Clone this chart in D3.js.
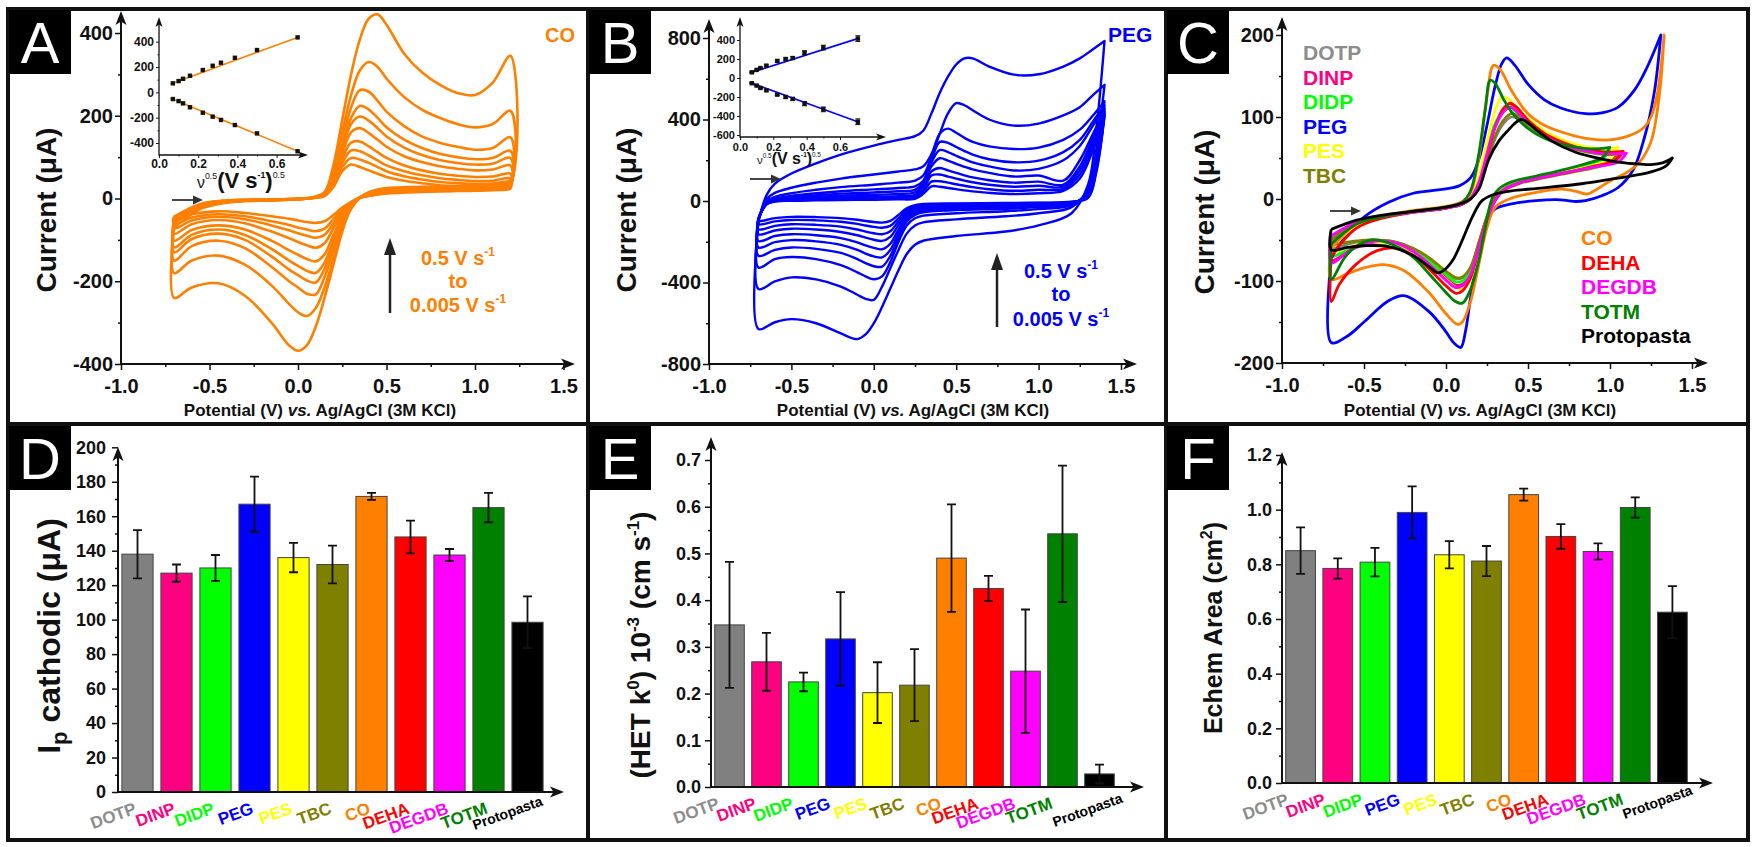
<!DOCTYPE html>
<html>
<head>
<meta charset="utf-8">
<script src="https://cdn.jsdelivr.net/npm/d3@7"></script>
<style>
  body { margin: 0; background: #fff; }
  svg text { font-family: "Liberation Sans", Arial, sans-serif; }
</style>
</head>
<body>
<svg id="fig" width="1753" height="847"></svg>
<script>
// ---------------- bar panels (D, E, F) ----------------
const materials = ["DOTP", "DINP", "DIDP", "PEG", "PES", "TBC", "CO", "DEHA", "DEGDB", "TOTM", "Protopasta"];
const matColors = ["#808080", "#ff0080", "#00ff00", "#0000ff", "#ffff00", "#808000", "#ff8000", "#ff0000", "#ff00ff", "#008000", "#000000"];
const labelColors = ["#8c8c8c", "#ff0080", "#00ff00", "#0000ff", "#ffff00", "#808000", "#ff8000", "#ff0000", "#ff00ff", "#008000", "#000000"];

const ipCathodic = [138, 127, 130, 167, 136, 132, 171.5, 148, 137.5, 165, 98.5];
const ipErr      = [14, 5, 7.5, 16, 8.5, 11, 2, 9.5, 3.5, 8.5, 15];
const hetK0      = [0.347, 0.268, 0.225, 0.317, 0.202, 0.218, 0.49, 0.425, 0.248, 0.542, 0.028];
const hetErr     = [0.135, 0.062, 0.02, 0.1, 0.065, 0.077, 0.115, 0.027, 0.132, 0.146, 0.02];
const echemArea  = [0.85, 0.785, 0.808, 0.99, 0.835, 0.812, 1.055, 0.902, 0.847, 1.008, 0.625];
const areaErr    = [0.085, 0.037, 0.052, 0.095, 0.05, 0.055, 0.022, 0.045, 0.03, 0.037, 0.095];

// ---------------- panel A: CO, scan rates 0.5 -> 0.005 V/s ----------------
const scanRates = [0.5, 0.25, 0.15, 0.1, 0.075, 0.05, 0.025, 0.015, 0.01, 0.005];
const cvAFwdE = [-0.7, -0.55, -0.4, -0.2, 0.0, 0.1, 0.15, 0.2, 0.25, 0.3, 0.35, 0.4, 0.45, 0.5, 0.6, 0.7, 0.8, 0.9, 1.0, 1.1, 1.2];
const cvAFwdI = [
  [-70, -25, -10, -5, -2, 5, 15, 80, 190, 300, 385, 435, 445, 420, 350, 305, 275, 255, 250, 280, 345],
  [-60, -22, -8, -4, -2, 4, 15, 65, 160, 250, 310, 330, 318, 290, 245, 215, 195, 180, 172, 180, 212],
  [-55, -20, -8, -4, -2, 3, 12, 55, 140, 220, 262, 258, 236, 210, 175, 150, 135, 125, 118, 122, 148],
  [-55, -20, -7, -4, -2, 3, 12, 50, 125, 195, 224, 215, 195, 172, 142, 122, 108, 100, 95, 98, 115],
  [-52, -18, -7, -4, -2, 3, 11, 48, 118, 180, 198, 188, 170, 150, 123, 105, 93, 86, 82, 84, 98],
  [-50, -17, -6, -3, -1, 3, 10, 44, 108, 160, 170, 158, 142, 125, 102, 88, 78, 72, 68, 70, 80],
  [-48, -16, -6, -3, -1, 3, 9, 40, 96, 135, 138, 126, 112, 98, 80, 68, 60, 55, 52, 53, 60],
  [-46, -15, -5, -3, -1, 2, 8, 36, 86, 116, 114, 104, 92, 80, 66, 56, 49, 45, 42, 43, 48],
  [-45, -14, -5, -3, -1, 2, 7, 32, 76, 98, 94, 86, 76, 66, 54, 46, 40, 37, 35, 36, 40],
  [-44, -13, -5, -3, -1, 2, 6, 28, 66, 82, 76, 68, 60, 52, 43, 37, 32, 30, 28, 29, 32]
];
const cvARevE = [1.2, 1.1, 0.9, 0.7, 0.5, 0.4, 0.35, 0.3, 0.25, 0.2, 0.15, 0.1, 0.05, 0.0, -0.05, -0.15, -0.3, -0.45, -0.6, -0.7];
const cvARevI = [
  [45, 35, 30, 28, 25, 15, 2, -20, -80, -160, -240, -310, -355, -368, -355, -300, -235, -205, -215, -240],
  [40, 32, 28, 26, 22, 14, 2, -25, -75, -145, -215, -265, -284, -275, -255, -210, -160, -138, -150, -180],
  [38, 30, 26, 24, 20, 13, 3, -20, -65, -125, -190, -232, -230, -215, -200, -165, -120, -102, -115, -150],
  [36, 28, 24, 22, 18, 12, 3, -18, -58, -112, -170, -203, -198, -185, -172, -140, -100, -85, -98, -130],
  [34, 27, 23, 21, 17, 11, 3, -16, -52, -100, -155, -180, -175, -163, -150, -122, -88, -75, -88, -118],
  [32, 25, 22, 20, 16, 10, 3, -14, -46, -88, -135, -152, -146, -136, -125, -102, -75, -65, -76, -102],
  [30, 24, 21, 19, 15, 9, 2, -12, -38, -72, -108, -119, -113, -105, -96, -80, -60, -52, -62, -85],
  [28, 23, 20, 18, 14, 8, 2, -10, -32, -60, -88, -95, -90, -84, -77, -65, -50, -44, -53, -72],
  [26, 22, 19, 17, 13, 7, 2, -9, -27, -50, -73, -79, -75, -70, -64, -55, -43, -38, -46, -62],
  [24, 20, 18, 16, 12, 6, 1, -8, -22, -40, -55, -59, -57, -53, -49, -43, -35, -31, -38, -52]
];

// inset: peak current vs sqrt(scan rate)
const sqrtScan = [0.0707, 0.1, 0.1225, 0.1581, 0.2236, 0.2739, 0.3162, 0.3873, 0.5, 0.7071];
const insetAUp   = [71, 89, 107, 131, 176, 210, 234, 273, 334, 434];
const insetADown = [-53, -69, -87, -118, -161, -192, -218, -258, -324, -465];
const insetAFitUp   = [[0.06, 65], [0.71, 436]];
const insetAFitDown = [[0.06, -46], [0.71, -467]];

// ---------------- panel B: PEG ----------------
const cvBFwdE = [-0.7, -0.65, -0.6, -0.5, -0.35, -0.2, 0.0, 0.15, 0.25, 0.3, 0.35, 0.4, 0.45, 0.5, 0.55, 0.6, 0.7, 0.85, 1.0, 1.15, 1.25, 1.33, 1.4];
const cvBFwdI = [
  [-100, 30, 85, 135, 185, 228, 272, 300, 318, 345, 430, 530, 610, 670, 700, 700, 660, 620, 622, 660, 700, 745, 785],
  [-95, 10, 40, 65, 90, 110, 130, 145, 155, 170, 230, 330, 430, 480, 470, 445, 400, 370, 380, 420, 460, 520, 570],
  [-92, 0, 20, 38, 55, 68, 80, 90, 100, 125, 220, 330, 355, 335, 310, 290, 268, 255, 262, 300, 350, 420, 490],
  [-90, -5, 12, 25, 38, 48, 57, 64, 72, 100, 200, 290, 285, 265, 245, 228, 205, 190, 198, 240, 300, 390, 470],
  [-88, -8, 8, 18, 28, 36, 42, 48, 55, 90, 190, 250, 240, 222, 205, 190, 170, 150, 158, 200, 270, 370, 455],
  [-88, -10, 5, 12, 20, 26, 30, 35, 42, 80, 170, 210, 198, 182, 168, 155, 138, 120, 125, 100, 200, 330, 445],
  [-87, -12, 2, 8, 13, 17, 20, 24, 30, 65, 145, 162, 150, 138, 126, 116, 102, 90, 95, 80, 170, 310, 435],
  [-86, -14, 0, 5, 9, 12, 14, 17, 22, 55, 125, 130, 120, 110, 100, 92, 80, 70, 75, 70, 150, 290, 428],
  [-85, -15, -2, 3, 6, 8, 10, 12, 16, 45, 95, 97, 90, 82, 75, 68, 58, 50, 55, 60, 130, 270, 422],
  [-85, -16, -3, 1, 3, 5, 6, 8, 11, 35, 72, 70, 64, 58, 52, 47, 40, 34, 38, 50, 110, 250, 418]
];
const cvBRevE = [1.4, 1.35, 1.3, 1.2, 1.0, 0.8, 0.5, 0.3, 0.25, 0.2, 0.15, 0.1, 0.05, 0.0, -0.05, -0.1, -0.2, -0.35, -0.5, -0.6, -0.7];
const cvBRevI = [
  [785, 350, 80, -60, -120, -150, -172, -195, -215, -260, -340, -430, -520, -600, -655, -678, -650, -600, -580, -595, -628],
  [570, 250, 60, -30, -60, -75, -90, -105, -120, -160, -240, -330, -420, -485, -480, -460, -420, -385, -375, -395, -432],
  [490, 220, 50, -20, -40, -50, -60, -72, -85, -120, -200, -300, -370, -384, -370, -350, -315, -285, -275, -285, -327],
  [470, 200, 40, -15, -30, -38, -45, -55, -68, -100, -180, -270, -322, -320, -305, -285, -255, -235, -228, -240, -269],
  [455, 190, 35, -12, -25, -32, -38, -46, -58, -88, -160, -240, -277, -272, -258, -240, -215, -198, -192, -202, -228],
  [445, 180, 30, -10, -20, -26, -30, -38, -50, -78, -140, -210, -237, -230, -218, -203, -182, -168, -163, -172, -196],
  [435, 170, 25, -8, -15, -20, -24, -30, -40, -65, -118, -176, -196, -190, -180, -168, -152, -140, -136, -145, -163],
  [428, 160, 22, -6, -12, -16, -19, -24, -33, -55, -100, -148, -163, -158, -150, -140, -126, -117, -114, -122, -139],
  [422, 150, 18, -5, -10, -13, -15, -19, -27, -45, -84, -122, -131, -127, -120, -112, -102, -95, -93, -100, -114],
  [418, 140, 15, -4, -8, -10, -12, -15, -21, -36, -68, -98, -106, -103, -98, -92, -84, -79, -78, -84, -98]
];
const insetBUp   = [60, 85, 105, 130, 180, 200, 210, 265, 320, 415];
const insetBDown = [-55, -80, -105, -130, -175, -200, -220, -270, -330, -460];
const insetBErr  = [5, 5, 6, 8, 10, 12, 15, 22, 25, 30];
const insetBFitUp   = [[0.06, 54], [0.71, 417]];
const insetBFitDown = [[0.06, -48], [0.71, -462]];

// ---------------- panel C: all filaments, [E (V), I (uA)] ----------------
const cvCFwd = [
  [[-0.7,-50],[-0.55,-30],[-0.4,-22],[-0.2,-16],[0,-11],[0.1,-6],[0.15,0],[0.2,16],[0.25,44],[0.3,74],[0.35,92],[0.4,100],[0.44,98],[0.5,88],[0.6,76],[0.7,67],[0.8,61],[0.9,57],[1.0,55],[1.05,56]],
  [[-0.7,-45],[-0.55,-29],[-0.4,-22],[-0.2,-16],[0,-11],[0.1,-6],[0.15,1],[0.2,20],[0.25,56],[0.3,90],[0.35,110],[0.39,116],[0.43,111],[0.5,95],[0.6,79],[0.7,69],[0.8,62],[0.9,58],[1.0,56],[1.08,57]],
  [[-0.7,-55],[-0.55,-31],[-0.4,-22],[-0.2,-16],[0,-11],[0.1,-6],[0.15,1],[0.2,22],[0.25,60],[0.3,92],[0.35,107],[0.39,112],[0.43,106],[0.5,91],[0.6,77],[0.7,67],[0.8,61],[0.9,58],[1.0,60]],
  [[-0.7,-72],[-0.6,-42],[-0.5,-22],[-0.35,-4],[-0.2,7],[-0.05,11],[0.08,16],[0.15,26],[0.2,48],[0.25,90],[0.3,138],[0.34,165],[0.37,172],[0.42,163],[0.5,140],[0.6,121],[0.7,111],[0.85,104],[0.95,105],[1.05,112],[1.15,133],[1.22,158],[1.31,200]],
  [[-0.7,-60],[-0.55,-33],[-0.4,-23],[-0.2,-16],[0,-11],[0.1,-6],[0.15,2],[0.2,26],[0.25,70],[0.3,108],[0.34,124],[0.38,122],[0.43,112],[0.5,98],[0.6,83],[0.7,73],[0.8,66],[0.9,62],[1.0,61],[1.05,63]],
  [[-0.7,-50],[-0.55,-30],[-0.4,-22],[-0.2,-16],[0,-11],[0.1,-6],[0.15,0],[0.2,16],[0.25,46],[0.3,77],[0.35,96],[0.4,104],[0.44,101],[0.5,91],[0.6,77],[0.7,67],[0.8,60],[0.9,56],[1.0,54],[1.05,56]],
  [[-0.7,-60],[-0.55,-31],[-0.4,-22],[-0.2,-14],[0,-9],[0.1,-3],[0.15,8],[0.2,50],[0.25,125],[0.29,163],[0.33,158],[0.4,132],[0.5,104],[0.6,90],[0.7,82],[0.85,74],[1.0,72],[1.1,76],[1.2,86],[1.25,100],[1.29,130],[1.33,200]],
  [[-0.7,-70],[-0.55,-36],[-0.4,-24],[-0.2,-16],[0,-11],[0.1,-6],[0.15,1],[0.2,18],[0.25,52],[0.3,88],[0.35,110],[0.39,117],[0.43,112],[0.5,96],[0.6,80],[0.7,70],[0.8,63],[0.9,59],[1.0,57],[1.08,58]],
  [[-0.7,-45],[-0.55,-29],[-0.4,-22],[-0.2,-16],[0,-11],[0.1,-6],[0.15,1],[0.2,20],[0.25,55],[0.3,88],[0.35,106],[0.39,112],[0.43,107],[0.5,93],[0.6,77],[0.7,67],[0.8,61],[0.9,57],[1.0,55],[1.1,56]],
  [[-0.7,-55],[-0.55,-31],[-0.4,-22],[-0.2,-15],[0,-10],[0.1,-4],[0.15,10],[0.2,55],[0.24,110],[0.27,145],[0.3,141],[0.35,122],[0.4,106],[0.5,86],[0.6,74],[0.7,67],[0.8,63],[0.9,61],[1.0,63]],
  [[-0.7,-37],[-0.55,-26],[-0.4,-20],[-0.2,-15],[0,-10],[0.1,-5],[0.15,0],[0.2,12],[0.26,48],[0.32,70],[0.38,84],[0.43,94],[0.46,97],[0.5,93],[0.56,83],[0.65,70],[0.79,57],[0.9,51],[1.02,46],[1.15,43],[1.25,42],[1.32,44],[1.38,50]]
];
const cvCRev = [
  [[1.05,56],[1.0,45],[0.9,39],[0.75,33],[0.6,27],[0.45,20],[0.35,11],[0.3,0],[0.25,-22],[0.2,-54],[0.15,-84],[0.1,-96],[0.06,-97],[0,-90],[-0.1,-74],[-0.2,-62],[-0.32,-53],[-0.45,-50],[-0.58,-54],[-0.7,-60]],
  [[1.08,57],[1.02,45],[0.9,39],[0.75,33],[0.6,27],[0.45,20],[0.35,11],[0.3,-2],[0.25,-26],[0.2,-60],[0.15,-92],[0.1,-104],[0.06,-105],[0,-96],[-0.1,-78],[-0.2,-63],[-0.32,-53],[-0.45,-53],[-0.58,-62],[-0.7,-75]],
  [[1.0,60],[0.95,48],[0.85,40],[0.7,33],[0.55,26],[0.4,18],[0.33,9],[0.28,-4],[0.24,-28],[0.2,-58],[0.15,-88],[0.1,-100],[0.06,-101],[0,-92],[-0.1,-76],[-0.2,-62],[-0.32,-52],[-0.45,-52],[-0.58,-60],[-0.7,-70]],
  [[1.31,200],[1.27,130],[1.21,75],[1.14,35],[1.05,14],[0.95,4],[0.85,-2],[0.78,-3],[0.7,-1],[0.55,-2],[0.4,-6],[0.3,-12],[0.25,-25],[0.2,-62],[0.15,-120],[0.12,-160],[0.09,-181],[0.05,-176],[0,-162],[-0.1,-138],[-0.25,-118],[-0.35,-124],[-0.5,-150],[-0.6,-167],[-0.7,-175]],
  [[1.05,63],[1.0,49],[0.9,41],[0.75,34],[0.6,27],[0.45,20],[0.35,11],[0.3,-1],[0.25,-27],[0.2,-64],[0.15,-98],[0.1,-110],[0.06,-108],[0,-98],[-0.1,-80],[-0.2,-65],[-0.32,-55],[-0.45,-52],[-0.58,-58],[-0.7,-65]],
  [[1.05,56],[1.0,44],[0.9,38],[0.75,32],[0.6,26],[0.45,19],[0.35,10],[0.3,-1],[0.25,-22],[0.2,-53],[0.15,-83],[0.1,-95],[0.06,-96],[0,-88],[-0.1,-72],[-0.2,-60],[-0.32,-52],[-0.45,-50],[-0.58,-52],[-0.7,-55]],
  [[1.33,200],[1.3,125],[1.25,70],[1.18,45],[1.1,32],[1.0,22],[0.92,12],[0.86,6],[0.8,9],[0.7,12],[0.55,8],[0.4,1],[0.3,-10],[0.25,-35],[0.2,-80],[0.15,-125],[0.1,-150],[0.07,-153],[0,-140],[-0.1,-115],[-0.25,-88],[-0.38,-80],[-0.5,-84],[-0.6,-91],[-0.7,-98]],
  [[1.08,58],[1.02,46],[0.9,40],[0.75,33],[0.6,27],[0.45,20],[0.35,11],[0.3,-1],[0.25,-24],[0.2,-60],[0.15,-96],[0.1,-112],[0.06,-115],[0,-106],[-0.1,-86],[-0.2,-69],[-0.3,-60],[-0.42,-63],[-0.55,-80],[-0.65,-104],[-0.7,-125]],
  [[1.1,56],[1.05,45],[0.9,39],[0.75,33],[0.6,27],[0.45,20],[0.35,11],[0.3,-2],[0.25,-25],[0.2,-60],[0.15,-92],[0.1,-106],[0.06,-108],[0,-99],[-0.1,-80],[-0.2,-64],[-0.32,-53],[-0.45,-52],[-0.58,-62],[-0.7,-78]],
  [[1.0,63],[0.95,50],[0.85,43],[0.7,35],[0.55,28],[0.4,21],[0.32,12],[0.28,0],[0.24,-35],[0.2,-75],[0.15,-110],[0.1,-127],[0.05,-124],[0,-114],[-0.1,-92],[-0.2,-71],[-0.32,-56],[-0.45,-50],[-0.55,-58],[-0.62,-72],[-0.7,-98]],
  [[1.38,50],[1.34,40],[1.25,33],[1.1,27],[1.0,24],[0.8,18],[0.56,13],[0.4,10],[0.3,6],[0.22,-2],[0.16,-22],[0.1,-50],[0.04,-75],[-0.02,-88],[-0.05,-90],[-0.1,-83],[-0.2,-69],[-0.35,-58],[-0.5,-57],[-0.6,-59],[-0.7,-62]]
];
const legendLeft  = ["DOTP", "DINP", "DIDP", "PEG", "PES", "TBC"];
const legendRight = ["CO", "DEHA", "DEGDB", "TOTM", "Protopasta"];

// ---------------- drawing ----------------
const svg = d3.select("#fig");
const INK = "#111";

function arrowUp(g, x, y, w, h) {
  g.append("path").attr("d", `M${x},${y} L${x - w / 2},${y + h} L${x},${y + h * 0.75} L${x + w / 2},${y + h} Z`).attr("fill", INK);
}
function arrowRight(g, x, y, w, h) {
  g.append("path").attr("d", `M${x},${y} L${x - h},${y - w / 2} L${x - h * 0.75},${y} L${x - h},${y + w / 2} Z`).attr("fill", INK);
}

// axes with arrow heads; ticks pointing outward
function axes(g, o) {
  const tk = o.tick || 6, sw = o.sw || 2;
  const gy = g.append("g").attr("transform", `translate(${o.x0},0)`)
    .call(d3.axisLeft(o.y).tickValues(o.yTicks).tickSize(tk).tickPadding(o.ypad || 2).tickFormat(o.yFmt));
  gy.select(".domain").remove();
  gy.selectAll(".tick text").attr("font-size", o.fs).attr("font-weight", "bold")
    .attr("font-family", '"Liberation Sans", Arial, sans-serif').attr("fill", INK);
  gy.selectAll(".tick line").attr("stroke", INK).attr("stroke-width", sw * 0.75);
  if (o.yMinor) {
    const gm = g.append("g").attr("transform", `translate(${o.x0},0)`)
      .call(d3.axisLeft(o.y).tickValues(o.yMinor).tickSize(tk / 2).tickFormat(""));
    gm.select(".domain").remove();
    gm.selectAll("line").attr("stroke", INK).attr("stroke-width", sw * 0.75);
  }
  if (o.xTicks) {
    const gx = g.append("g").attr("transform", `translate(0,${o.y0})`)
      .call(d3.axisBottom(o.x).tickValues(o.xTicks).tickSize(tk).tickPadding(o.xpad || 8).tickFormat(o.xFmt));
    gx.select(".domain").remove();
    gx.selectAll(".tick text").attr("font-size", o.fs).attr("font-weight", "bold")
      .attr("font-family", '"Liberation Sans", Arial, sans-serif').attr("fill", INK);
    gx.selectAll(".tick line").attr("stroke", INK).attr("stroke-width", sw * 0.75);
    if (o.xMinor) {
      const gm = g.append("g").attr("transform", `translate(0,${o.y0})`)
        .call(d3.axisBottom(o.x).tickValues(o.xMinor).tickSize(tk / 2).tickFormat(""));
      gm.select(".domain").remove();
      gm.selectAll("line").attr("stroke", INK).attr("stroke-width", sw * 0.75);
    }
  }
  const ah = o.ah || 14, aw = o.aw || 11;
  g.append("line").attr("x1", o.x0).attr("x2", o.x0).attr("y1", o.y0 + sw / 2).attr("y2", o.yTop + ah * 0.7)
    .attr("stroke", INK).attr("stroke-width", sw);
  arrowUp(g, o.x0, o.yTop, aw, ah);
  g.append("line").attr("x1", o.x0).attr("x2", o.xEnd - ah * 0.7).attr("y1", o.y0).attr("y2", o.y0)
    .attr("stroke", INK).attr("stroke-width", sw);
  arrowRight(g, o.xEnd, o.y0, aw, ah);
}

const cvLine = (x, y) => d3.line().x(d => x(d[0])).y(d => y(d[1])).curve(d3.curveCatmullRom.alpha(0.5));

function drawFamily(g, x, y, fwdE, fwdI, revE, revI, color, w) {
  const line = cvLine(x, y);
  fwdI.forEach((row, k) => {
    const pts = fwdE.map((e, i) => [e, row[i]]).concat(revE.map((e, i) => [e, revI[k][i]]));
    pts.push([fwdE[0], row[0]]);
    g.append("path").attr("d", line(pts)).attr("fill", "none")
      .attr("stroke", color).attr("stroke-width", w).attr("stroke-linejoin", "round");
  });
}

function panelLetter(x, y, letter) {
  svg.append("rect").attr("x", x).attr("y", y).attr("width", 62).attr("height", 64).attr("fill", "#000");
  svg.append("text").attr("x", x + 31).attr("y", y + 53).attr("text-anchor", "middle")
    .attr("font-size", 58).attr("fill", "#fff").text(letter);
}

function smallArrow(x1, x2, y) {
  svg.append("line").attr("x1", x1).attr("x2", x2 - 8).attr("y1", y).attr("y2", y)
    .attr("stroke", "#333").attr("stroke-width", 1.8);
  svg.append("path").attr("d", `M${x2},${y} L${x2 - 10},${y - 4.5} L${x2 - 10},${y + 4.5} Z`).attr("fill", "#333");
}

function bigArrow(x, yBottom, yTop) {
  svg.append("line").attr("x1", x).attr("x2", x).attr("y1", yBottom).attr("y2", yTop + 12)
    .attr("stroke", "#222").attr("stroke-width", 2.5);
  svg.append("path").attr("d", `M${x},${yTop} L${x - 6},${yTop + 17} L${x + 6},${yTop + 17} Z`).attr("fill", "#222");
}

function rateText(cx, ys, color) {
  const lines = [["0.5 V s", "-1"], ["to", null], ["0.005 V s", "-1"]];
  lines.forEach((l, i) => {
    const t = svg.append("text").attr("x", cx).attr("y", ys[i]).attr("text-anchor", "middle")
      .attr("font-size", 20).attr("font-weight", "bold").attr("fill", color);
    t.append("tspan").text(l[0]);
    if (l[1]) t.append("tspan").attr("font-size", 12).attr("dy", -9).text(l[1]);
  });
}

function potentialTitle(cx) {
  svg.append("text").attr("x", cx).attr("y", 416).attr("text-anchor", "middle")
    .attr("font-size", 17).attr("font-weight", "bold").attr("fill", INK)
    .call(t => {
      t.append("tspan").text("Potential (V) ");
      t.append("tspan").attr("font-style", "italic").text("vs.");
      t.append("tspan").text(" Ag/AgCl (3M KCl)");
    });
}

function currentTitle(x, y) {
  svg.append("text").attr("transform", `translate(${x},${y}) rotate(-90)`).attr("text-anchor", "middle")
    .attr("font-size", 28).attr("font-weight", "bold").attr("fill", INK).text("Current (\u03bcA)");
}

function inset(o) {
  const g = svg.append("g");
  const x = d3.scaleLinear().domain([0, 0.6]).range(o.xr);
  const y = d3.scaleLinear().domain(o.yd).range(o.yr);
  const line = d3.line().x(d => x(d[0])).y(d => y(d[1]));
  [o.fitUp, o.fitDown].forEach(f => g.append("path").attr("d", line(f))
    .attr("stroke", o.color).attr("stroke-width", 1.6).attr("fill", "none"));
  [o.up, o.down].forEach(vals => {
    if (o.err) {
      g.selectAll(null).data(vals).join("path")
        .attr("d", (d, i) => {
          const cx = x(sqrtScan[i]), a = y(d + o.err[i]), b = y(d - o.err[i]);
          return `M${cx - 2.5},${a}H${cx + 2.5}M${cx},${a}V${b}M${cx - 2.5},${b}H${cx + 2.5}`;
        })
        .attr("stroke", "#111").attr("stroke-width", 1).attr("fill", "none");
    }
    g.selectAll(null).data(vals).join("rect")
      .attr("x", (d, i) => x(sqrtScan[i]) - 2.2).attr("y", d => y(d) - 2.2)
      .attr("width", 4.4).attr("height", 4.4).attr("fill", "#111");
  });
  axes(g, {
    x, y, x0: o.xr[0], y0: o.y0, yTop: 17, xEnd: o.xEnd,
    yTicks: o.yTicks, yMinor: o.yMinor, xTicks: [0, 0.2, 0.4, 0.6], xMinor: [0.1, 0.3, 0.5],
    yFmt: d => String(d), xFmt: d => d.toFixed(1), fs: o.fs, tick: 3, sw: 1.3, ypad: 2, xpad: o.xpad, ah: 10, aw: 7
  });
  const t = g.append("text").attr("x", o.tx).attr("y", o.ty).attr("font-weight", "bold").attr("fill", INK);
  t.append("tspan").attr("font-size", o.ts * 0.72).attr("font-weight", "normal").text("\u03bd");
  t.append("tspan").attr("font-size", o.ts * 0.4).attr("font-weight", "normal").attr("dy", -o.ts * 0.4).text("0.5");
  t.append("tspan").attr("font-size", o.ts).attr("dy", o.ts * 0.4).text("(V s");
  t.append("tspan").attr("font-size", o.ts * 0.4).attr("dy", -o.ts * 0.45).text("-1");
  t.append("tspan").attr("font-size", o.ts).attr("dy", o.ts * 0.45).text(")");
  t.append("tspan").attr("font-size", o.ts * 0.4).attr("font-weight", "normal").attr("dy", -o.ts * 0.45).text("0.5");
}

// ---- panel A ----
{
  const g = svg.append("g");
  const x = d3.scaleLinear().domain([-1, 1.5]).range([121, 563.5]);
  const y = d3.scaleLinear().domain([-400, 400]).range([364, 33]);
  drawFamily(g, x, y, cvAFwdE, cvAFwdI, cvARevE, cvARevI, "#ff8000", 2.6);
  axes(g, {
    x, y, x0: 121, y0: 364, yTop: 11, xEnd: 575,
    yTicks: [-400, -200, 0, 200, 400], yMinor: [-300, -100, 100, 300],
    xTicks: [-1, -0.5, 0, 0.5, 1, 1.5], xMinor: [-0.75, -0.25, 0.25, 0.75, 1.25],
    yFmt: d => String(d), xFmt: d => d.toFixed(1), fs: 20, xpad: 9
  });
  inset({ xr: [159, 276.6], yd: [-400, 400], yr: [143, 41.7], y0: 155, xEnd: 308,
    yTicks: [-400, -200, 0, 200, 400], yMinor: [-300, -100, 100, 300],
    up: insetAUp, down: insetADown, fitUp: insetAFitUp, fitDown: insetAFitDown, color: "#ff8000",
    fs: 12, xpad: 1, tx: 197, ty: 188, ts: 22 });
  svg.append("text").attr("x", 545).attr("y", 42).attr("font-size", 20).attr("font-weight", "bold")
    .attr("fill", "#ff8000").text("CO");
  rateText(458, [265, 288, 312], "#ff8000");
  bigArrow(390, 313, 238);
  smallArrow(172, 203, 200);
  potentialTitle(320);
  currentTitle(56, 210);
}

// ---- panel B ----
{
  const g = svg.append("g");
  const x = d3.scaleLinear().domain([-1, 1.5]).range([709, 1121]);
  const y = d3.scaleLinear().domain([-800, 800]).range([364, 38]);
  drawFamily(g, x, y, cvBFwdE, cvBFwdI, cvBRevE, cvBRevI, "#0000ff", 2.4);
  axes(g, {
    x, y, x0: 709, y0: 364, yTop: 19, xEnd: 1137,
    yTicks: [-800, -400, 0, 400, 800], yMinor: [-600, -200, 200, 600],
    xTicks: [-1, -0.5, 0, 0.5, 1, 1.5], xMinor: [-0.75, -0.25, 0.25, 0.75, 1.25],
    yFmt: d => String(d), xFmt: d => d.toFixed(1), fs: 20, xpad: 9
  });
  inset({ xr: [740, 840], yd: [-600, 400], yr: [135, 40], y0: 137, xEnd: 886,
    yTicks: [-600, -400, -200, 0, 200, 400], yMinor: null,
    up: insetBUp, down: insetBDown, err: insetBErr, fitUp: insetBFitUp, fitDown: insetBFitDown, color: "#0000ff",
    fs: 11, xpad: 3, tx: 757, ty: 164, ts: 16 });
  svg.append("text").attr("x", 1108).attr("y", 42).attr("font-size", 21).attr("font-weight", "bold")
    .attr("fill", "#0000ff").text("PEG");
  rateText(1061, [278, 301, 326], "#0000ff");
  bigArrow(997, 327, 253);
  smallArrow(750, 781, 179);
  potentialTitle(913);
  currentTitle(636, 210);
}

// ---- panel C ----
{
  const g = svg.append("g");
  const x = d3.scaleLinear().domain([-1, 1.5]).range([1282, 1692]);
  const y = d3.scaleLinear().domain([-200, 200]).range([363, 35]);
  const line = cvLine(x, y);
  cvCFwd.forEach((fwd, k) => {
    const pts = fwd.concat(cvCRev[k]);
    pts.push(fwd[0]);
    g.append("path").attr("d", line(pts)).attr("fill", "none")
      .attr("stroke", matColors[k]).attr("stroke-width", 2.8).attr("stroke-linejoin", "round");
  });
  axes(g, {
    x, y, x0: 1282, y0: 363, yTop: 17, xEnd: 1708,
    yTicks: [-200, -100, 0, 100, 200], yMinor: [-150, -50, 50, 150],
    xTicks: [-1, -0.5, 0, 0.5, 1, 1.5], xMinor: [-0.75, -0.25, 0.25, 0.75, 1.25],
    yFmt: d => String(d), xFmt: d => d.toFixed(1), fs: 20, xpad: 9
  });
  legendLeft.forEach((m, i) => svg.append("text").attr("x", 1303).attr("y", 60 + i * 24.5)
    .attr("font-size", 21).attr("font-weight", "bold").attr("fill", labelColors[materials.indexOf(m)]).text(m));
  legendRight.forEach((m, i) => svg.append("text").attr("x", 1581).attr("y", 245 + i * 24.5)
    .attr("font-size", 21).attr("font-weight", "bold").attr("fill", labelColors[materials.indexOf(m)]).text(m));
  smallArrow(1330, 1361, 211);
  potentialTitle(1480);
  currentTitle(1214, 212);
}

// ---- bar panels ----
function barPanel(o) {
  const g = svg.append("g");
  const x = d3.scaleBand().domain(materials).range(o.xr).paddingInner(0.2).paddingOuter(0.1);
  const y = d3.scaleLinear().domain(o.yd).range(o.yr);
  g.selectAll("rect.bar").data(materials).join("rect").attr("class", "bar")
    .attr("x", d => x(d)).attr("width", x.bandwidth())
    .attr("y", (d, i) => y(o.vals[i])).attr("height", (d, i) => y(0) - y(o.vals[i]))
    .attr("fill", (d, i) => matColors[i]).attr("stroke", "#444").attr("stroke-width", 1);
  g.selectAll("path.err").data(materials).join("path").attr("class", "err")
    .attr("d", (d, i) => {
      const cx = x(d) + x.bandwidth() / 2, a = y(o.vals[i] + o.errs[i]), b = y(o.vals[i] - o.errs[i]);
      return `M${cx - 4.5},${a}H${cx + 4.5}M${cx},${a}V${b}M${cx - 4.5},${b}H${cx + 4.5}`;
    })
    .attr("stroke", "#111").attr("stroke-width", 1.8).attr("fill", "none");
  axes(g, {
    x, y, x0: o.xr[0], y0: o.yr[0], yTop: o.yTop, xEnd: o.xEnd,
    yTicks: o.yTicks, yMinor: o.yMinor, yFmt: o.fmt, fs: 18, ypad: o.ypad
  });
  g.selectAll("text.cat").data(materials).join("text").attr("class", "cat")
    .attr("transform", d => {
      const p = d === "Protopasta";
      const cx = x(d) + x.bandwidth() / 2 + (p ? o.offP : o.off);
      const cy = o.yr[0] + (p ? o.dyP : 21);
      return `translate(${cx},${cy}) rotate(-20)`;
    })
    .attr("text-anchor", "end").attr("font-size", d => d === "Protopasta" ? 14 : 17)
    .attr("font-weight", "bold").attr("fill", (d, i) => labelColors[i]).text(d => d);
  return g;
}

barPanel({ xr: [118, 547], yd: [0, 200], yr: [792, 447.3], yTop: 447, xEnd: 564,
  vals: ipCathodic, errs: ipErr, yTicks: d3.range(0, 201, 20), yMinor: d3.range(10, 200, 20),
  fmt: d => String(d), ypad: 6, off: 0, offP: 16, dyP: 13 });
barPanel({ xr: [711, 1118], yd: [0, 0.7], yr: [787, 460], yTop: 437, xEnd: 1144,
  vals: hetK0, errs: hetErr, yTicks: d3.range(0, 0.71, 0.1), yMinor: d3.range(0.05, 0.75, 0.1),
  fmt: d => d.toFixed(1), ypad: 4, off: -9, offP: 24, dyP: 15 });
barPanel({ xr: [1282, 1691], yd: [0, 1.2], yr: [783, 455], yTop: 452, xEnd: 1713,
  vals: echemArea, errs: areaErr, yTicks: d3.range(0, 1.21, 0.2), yMinor: d3.range(0.1, 1.2, 0.2),
  fmt: d => d.toFixed(1), ypad: 4, off: -11, offP: 21, dyP: 11 });

// y titles of bar panels
svg.append("text").attr("transform", "translate(60,636) rotate(-90)").attr("text-anchor", "middle")
  .attr("font-size", 32).attr("font-weight", "bold").attr("fill", INK)
  .call(t => {
    t.append("tspan").text("I");
    t.append("tspan").attr("font-size", 22).attr("dy", 7).text("p");
    t.append("tspan").attr("dy", -7).text(" cathodic (\u03bcA)");
  });
svg.append("text").attr("transform", "translate(650,645) rotate(-90)").attr("text-anchor", "middle")
  .attr("font-size", 28).attr("font-weight", "bold").attr("fill", INK)
  .call(t => {
    t.append("tspan").text("(HET k");
    t.append("tspan").attr("font-size", 17).attr("dy", -11).text("0");
    t.append("tspan").attr("dy", 11).text(") 10");
    t.append("tspan").attr("font-size", 17).attr("dy", -11).text("-3");
    t.append("tspan").attr("dy", 11).text(" (cm s");
    t.append("tspan").attr("font-size", 17).attr("dy", -11).text("-1");
    t.append("tspan").attr("dy", 11).text(")");
  });
svg.append("text").attr("transform", "translate(1222,628) rotate(-90)").attr("text-anchor", "middle")
  .attr("font-size", 25).attr("font-weight", "bold").attr("fill", INK)
  .call(t => {
    t.append("tspan").text("Echem Area (cm");
    t.append("tspan").attr("font-size", 16).attr("dy", -10).text("2");
    t.append("tspan").attr("dy", 10).text(")");
  });

// ---- frames and panel letters ----
const frame = svg.append("g").attr("fill", "none").attr("stroke", "#111").attr("stroke-width", 4);
frame.append("rect").attr("x", 8).attr("y", 9).attr("width", 1740).attr("height", 831);
frame.append("line").attr("x1", 8).attr("x2", 1748).attr("y1", 424).attr("y2", 424);
frame.append("line").attr("x1", 588).attr("x2", 588).attr("y1", 9).attr("y2", 840);
frame.append("line").attr("x1", 1166).attr("x2", 1166).attr("y1", 9).attr("y2", 840);

[[9, 10, "A"], [589, 10, "B"], [1167, 10, "C"], [9, 426, "D"], [589, 426, "E"], [1167, 426, "F"]]
  .forEach(p => panelLetter(p[0], p[1], p[2]));
</script>
</body>
</html>
